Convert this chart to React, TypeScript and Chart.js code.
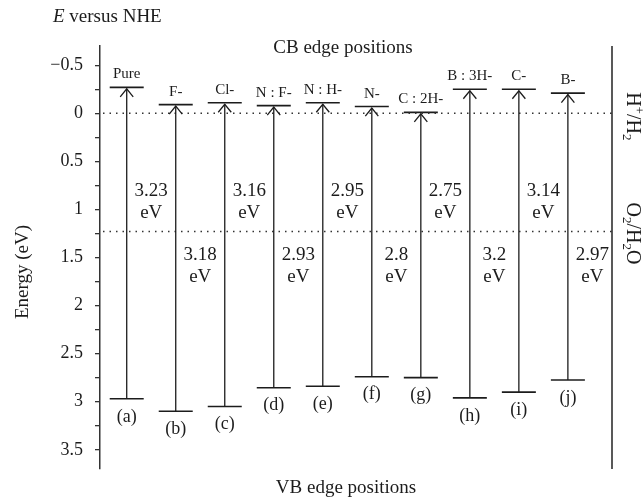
import React, { useEffect, useRef } from 'react';
import { Chart, registerables } from 'chart.js';

Chart.register(...registerables);

// ---- data ----
const sampleNames = ['Pure', 'F-', 'Cl-', 'N : F-', 'N : H-', 'N-', 'C : 2H-', 'B : 3H-', 'C-', 'B-'];
const sampleLetters = ['(a)', '(b)', '(c)', '(d)', '(e)', '(f)', '(g)', '(h)', '(i)', '(j)'];
const cbEdge = [-0.27, -0.09, -0.11, -0.08, -0.11, -0.07, -0.01, -0.25, -0.25, -0.21];
const vbEdge = [2.97, 3.1, 3.05, 2.855, 2.84, 2.74, 2.75, 2.96, 2.9, 2.775];
const gapLabels = ['3.23', '3.18', '3.16', '2.93', '2.95', '2.8', '2.75', '3.2', '3.14', '2.97'];
const redoxLevels = [0, 1.23];
const yMin = -0.7;
const yMax = 3.7;
const yStep = 0.25;

const FONT = "'Liberation Serif', 'Times New Roman', serif";
const INK = '#1c1c1c';

type Seg = { t: string; sup?: boolean; sub?: boolean; italic?: boolean };

function drawRich(ctx: CanvasRenderingContext2D, segs: Seg[], size: number, cx: number, cy: number, rot: number, align: 'center' | 'left' = 'center') {
  const fontFor = (s: Seg) => {
    const sz = s.sup || s.sub ? size * 0.65 : size;
    return `${s.italic ? 'italic ' : ''}${sz}px ${FONT}`;
  };
  let total = 0;
  const widths = segs.map((s) => {
    ctx.font = fontFor(s);
    const w = ctx.measureText(s.t).width;
    total += w;
    return w;
  });
  ctx.save();
  ctx.translate(cx, cy);
  ctx.rotate(rot);
  ctx.fillStyle = INK;
  ctx.textBaseline = 'middle';
  ctx.textAlign = 'left';
  let x = align === 'center' ? -total / 2 : 0;
  segs.forEach((s, i) => {
    ctx.font = fontFor(s);
    let dy = 0;
    if (s.sup) dy = -size * 0.3;
    if (s.sub) dy = size * 0.28;
    ctx.fillText(s.t, x, dy);
    x += widths[i];
  });
  ctx.restore();
}

const bandPlugin = {
  id: 'bandPlugin',
  afterDatasetsDraw(chart: any) {
    const ctx: CanvasRenderingContext2D = chart.ctx;
    const xs = chart.scales.x;
    const ys = chart.scales.y;
    const area = chart.chartArea;
    ctx.save();

    // dotted redox levels
    ctx.strokeStyle = '#333';
    ctx.lineWidth = 1.5;
    ctx.setLineDash([1.5, 5]);
    redoxLevels.forEach((lv) => {
      const y = ys.getPixelForValue(lv);
      ctx.beginPath();
      ctx.moveTo(area.left + 3, y);
      ctx.lineTo(area.right, y);
      ctx.stroke();
    });
    ctx.setLineDash([]);

    // vertical arrows
    ctx.strokeStyle = INK;
    ctx.lineWidth = 1.3;
    cbEdge.forEach((cb, i) => {
      const x = xs.getPixelForValue(i);
      const yTop = ys.getPixelForValue(cb) + 1.5;
      const yBot = ys.getPixelForValue(vbEdge[i]);
      ctx.beginPath();
      ctx.moveTo(x, yBot);
      ctx.lineTo(x, yTop);
      ctx.stroke();
      ctx.beginPath();
      ctx.moveTo(x - 6.5, yTop + 8);
      ctx.lineTo(x, yTop);
      ctx.lineTo(x + 6.5, yTop + 8);
      ctx.stroke();
    });

    // right border
    ctx.strokeStyle = '#222';
    ctx.lineWidth = 1.5;
    ctx.beginPath();
    ctx.moveTo(area.right, area.top);
    ctx.lineTo(area.right, area.bottom);
    ctx.stroke();

    // labels
    ctx.fillStyle = INK;
    ctx.textAlign = 'center';
    ctx.textBaseline = 'alphabetic';
    ctx.font = `15px ${FONT}`;
    sampleNames.forEach((n, i) => {
      ctx.fillText(n, xs.getPixelForValue(i), ys.getPixelForValue(cbEdge[i]) - 9);
    });
    ctx.textBaseline = 'middle';
    ctx.font = `18px ${FONT}`;
    sampleLetters.forEach((l, i) => {
      ctx.fillText(l, xs.getPixelForValue(i), ys.getPixelForValue(vbEdge[i]) + 18);
    });
    ctx.font = `19px ${FONT}`;
    const yO2 = ys.getPixelForValue(redoxLevels[1]);
    gapLabels.forEach((g, i) => {
      const x = xs.getPixelForValue(i + 0.5);
      const y1 = i % 2 === 0 ? yO2 - 40.5 : yO2 + 23.5;
      ctx.fillText(g, x, y1);
      ctx.fillText('eV', x, y1 + 22);
    });

    // titles
    drawRich(ctx, [{ t: 'E', italic: true }, { t: ' versus NHE' }], 19, 53, 17, 0, 'left');
    drawRich(ctx, [{ t: 'CB edge positions' }], 19, (area.left + area.right) / 2 - 13, 48, 0);
    drawRich(ctx, [{ t: 'VB edge positions' }], 19, (area.left + area.right) / 2 - 10, 488, 0);
    drawRich(ctx, [{ t: 'Energy (eV)' }], 19, 23, 272, -Math.PI / 2);
    drawRich(ctx, [{ t: 'H' }, { t: '+', sup: true }, { t: '/H' }, { t: '2', sub: true }], 20, 632, ys.getPixelForValue(redoxLevels[0]) + 3, Math.PI / 2);
    drawRich(ctx, [{ t: 'O' }, { t: '2', sub: true }, { t: '/H' }, { t: '2', sub: true }, { t: 'O' }], 20, 632, yO2 + 2, Math.PI / 2);

    ctx.restore();
  },
};

function fmtTick(v: number): string {
  if (Math.abs(v * 2 - Math.round(v * 2)) > 1e-6) return '';
  const r = Math.round(v * 2) / 2;
  if (r === 0) return '0';
  return (r < 0 ? '\u2212' : '') + String(Math.abs(r));
}

export default function App() {
  const ref = useRef<HTMLCanvasElement | null>(null);
  useEffect(() => {
    if (!ref.current) return;
    const chart = new Chart(ref.current, {
      type: 'scatter',
      data: {
        datasets: [
          {
            label: 'CB',
            data: cbEdge.map((v, i) => ({ x: i, y: v })),
            pointStyle: 'line',
            radius: 17,
            hoverRadius: 17,
            borderWidth: 1.6,
            borderColor: INK,
            backgroundColor: INK,
          },
          {
            label: 'VB',
            data: vbEdge.map((v, i) => ({ x: i, y: v })),
            pointStyle: 'line',
            radius: 17,
            hoverRadius: 17,
            borderWidth: 1.6,
            borderColor: INK,
            backgroundColor: INK,
          },
        ],
      },
      options: {
        animation: false,
        responsive: false,
        devicePixelRatio: 1,
        layout: { padding: { left: 0, right: 31, top: 46, bottom: 29 } },
        plugins: { legend: { display: false }, tooltip: { enabled: false } },
        events: [],
        scales: {
          x: { type: 'linear', min: -0.545, max: 9.9, display: false },
          y: {
            type: 'linear',
            reverse: true,
            min: yMin,
            max: yMax,
            afterFit: (s: any) => {
              s.width = 100;
            },
            ticks: {
              stepSize: yStep,
              includeBounds: false,
              autoSkip: false,
              padding: 12,
              color: INK,
              font: { family: FONT, size: 18 },
              callback: (v: any) => fmtTick(Number(v)),
            },
            grid: { drawOnChartArea: false, drawTicks: true, tickLength: 5, color: '#333', lineWidth: 1.3 },
            border: { display: true, color: '#333', width: 1.5 },
          },
        },
      },
      plugins: [bandPlugin],
    } as any);
    return () => chart.destroy();
  }, []);
  return (
    <div style={{ position: 'fixed', left: 0, top: 0, width: 643, height: 498, background: '#fff' }}>
      <canvas ref={ref} width={643} height={498} style={{ width: 643, height: 498 }} />
    </div>
  );
}
